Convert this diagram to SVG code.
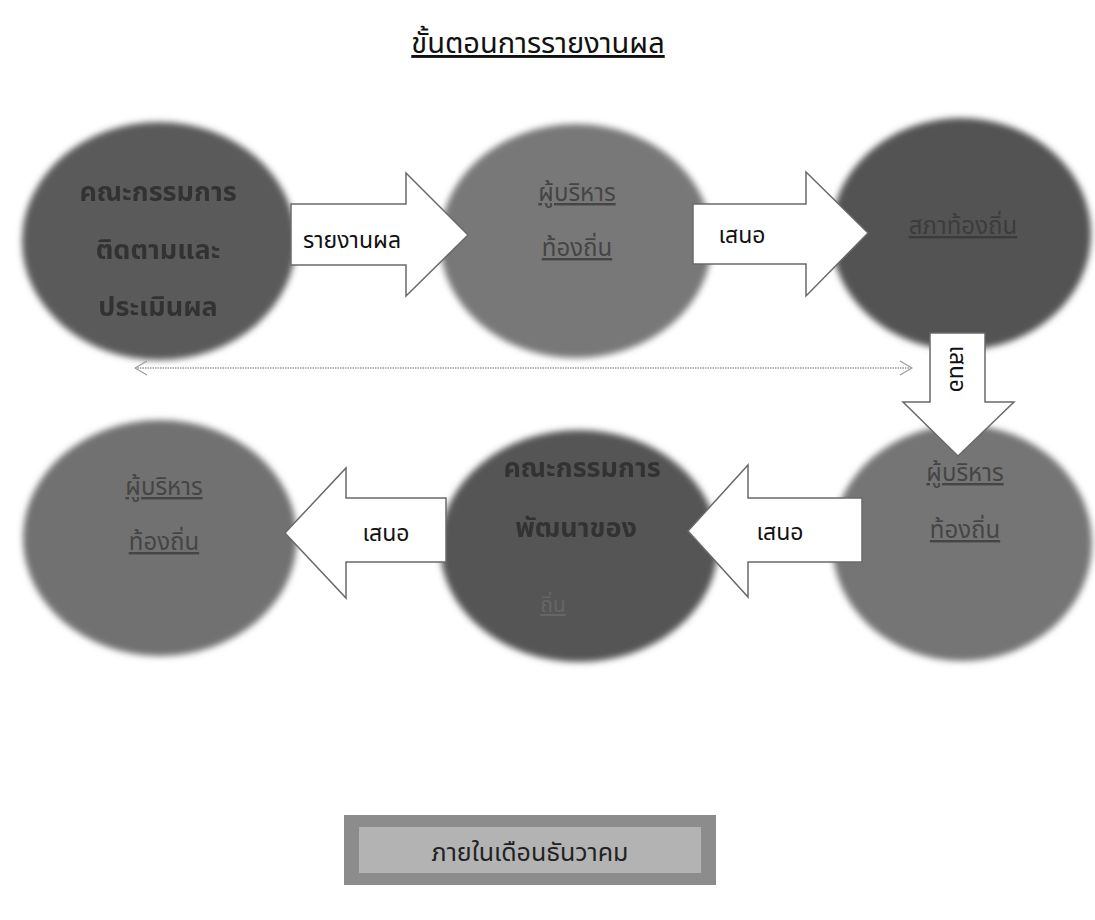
<svg xmlns="http://www.w3.org/2000/svg" width="1095" height="920" viewBox="0 0 1095 920">
  <defs>
    <filter id="soft" x="-10%" y="-10%" width="120%" height="120%">
      <feGaussianBlur stdDeviation="3"/>
    </filter>
    <filter id="textsoft" x="-5%" y="-20%" width="110%" height="140%">
      <feGaussianBlur stdDeviation="0.6"/>
    </filter>
    <marker id="chev" viewBox="0 0 14 16" refX="13" refY="8" markerWidth="14" markerHeight="16" markerUnits="userSpaceOnUse" orient="auto-start-reverse">
      <path d="M1,1 L13,8 L1,15" fill="none" stroke="#9a9a9a" stroke-width="1.2"/>
    </marker>
  </defs>
  <style>
    text { font-family: "Noto Sans Thai", "Tahoma", "Noto Sans", "DejaVu Sans", sans-serif; }
    .title { font-size: 29px; fill: #111; text-decoration: underline; }
    .node-dark { font-size: 27px; font-weight: bold; fill: #333333; }
    .node-link { font-size: 24px; fill: #454545; text-decoration: underline; }
    .lbl { font-size: 23px; fill: #111; }
    .arrow { fill: #ffffff; stroke: #6a6a6a; stroke-width: 1.5; stroke-linejoin: miter; }
    .box-text { font-size: 25px; fill: #222; }
  </style>

  <rect x="0" y="0" width="1095" height="920" fill="#ffffff"/>

  <text class="title" x="538" y="53" text-anchor="middle">ขั้นตอนการรายงานผล</text>

  <g id="node-c1">
    <ellipse cx="159" cy="241" rx="137" ry="119" fill="#5a5a5a" filter="url(#soft)"/>
    <g filter="url(#textsoft)">
      <text class="node-dark" x="158" y="201" text-anchor="middle">คณะกรรมการ</text>
      <text class="node-dark" x="158" y="259" text-anchor="middle">ติดตามและ</text>
      <text class="node-dark" x="158" y="316" text-anchor="middle">ประเมินผล</text>
    </g>
  </g>

  <g id="node-c2">
    <ellipse cx="576" cy="241" rx="136" ry="117" fill="#787878" filter="url(#soft)"/>
    <text class="node-link" x="577" y="201" text-anchor="middle">ผู้บริหาร</text>
    <text class="node-link" x="577" y="256" text-anchor="middle">ท้องถิ่น</text>
  </g>

  <g id="node-c3">
    <ellipse cx="961" cy="234" rx="130" ry="116" fill="#525252" filter="url(#soft)"/>
    <text class="node-link" x="963" y="234" text-anchor="middle" style="fill:#3c3c3c">สภาท้องถิ่น</text>
  </g>

  <g id="node-c4">
    <ellipse cx="160" cy="538" rx="137" ry="118" fill="#717171" filter="url(#soft)"/>
    <text class="node-link" x="164" y="495" text-anchor="middle">ผู้บริหาร</text>
    <text class="node-link" x="164" y="550" text-anchor="middle">ท้องถิ่น</text>
  </g>

  <g id="node-c5">
    <ellipse cx="579" cy="546" rx="139" ry="116" fill="#545454" filter="url(#soft)"/>
    <g filter="url(#textsoft)">
      <text class="node-dark" x="582" y="477" text-anchor="middle">คณะกรรมการ</text>
      <text class="node-dark" x="576" y="537" text-anchor="middle">พัฒนาของ</text>
    </g>
    <text class="node-link" x="553" y="612" text-anchor="middle" style="fill:#666;font-size:21px">ถิ่น</text>
  </g>

  <g id="node-c6">
    <ellipse cx="962" cy="543" rx="130" ry="118" fill="#757575" filter="url(#soft)"/>
    <text class="node-link" x="965" y="481" text-anchor="middle">ผู้บริหาร</text>
    <text class="node-link" x="965" y="538" text-anchor="middle">ท้องถิ่น</text>
  </g>

  <g id="connectors">
    <line x1="135" y1="368" x2="912" y2="368" stroke="#9a9a9a" stroke-width="1.3" stroke-dasharray="1.5 1" marker-start="url(#chev)" marker-end="url(#chev)"/>

    <g id="arrow-report">
      <path class="arrow" d="M291,204 L406,204 L406,173 L468,235 L406,296 L406,265 L291,265 Z"/>
      <text class="lbl" x="352" y="248" text-anchor="middle">รายงานผล</text>
    </g>
    <g id="arrow-propose1">
      <path class="arrow" d="M693,204 L806,204 L806,172 L868,233 L806,296 L806,264 L693,264 Z"/>
      <text class="lbl" x="742" y="243" text-anchor="middle">เสนอ</text>
    </g>
    <g id="arrow-propose-down">
      <path class="arrow" d="M930,333 L985,333 L985,402 L1014,402 L958,456 L903,402 L930,402 Z"/>
      <text class="lbl" x="0" y="0" text-anchor="middle" transform="translate(950,369) rotate(90)">เสนอ</text>
    </g>
    <g id="arrow-propose2">
      <path class="arrow" d="M862,498 L748,498 L748,465 L688,531 L748,597 L748,562 L862,562 Z"/>
      <text class="lbl" x="780" y="540" text-anchor="middle">เสนอ</text>
    </g>
    <g id="arrow-propose3">
      <path class="arrow" d="M446,498 L346,498 L346,468 L285,533 L346,598 L346,562 L446,562 Z"/>
      <text class="lbl" x="386" y="541" text-anchor="middle">เสนอ</text>
    </g>
  </g>

  <g id="note-box">
    <rect x="344" y="815" width="372" height="70" fill="#8c8c8c"/>
    <rect x="359" y="827" width="342" height="46" fill="#b3b3b3"/>
    <text class="box-text" x="530" y="861" text-anchor="middle">ภายในเดือนธันวาคม</text>
  </g>
</svg>
